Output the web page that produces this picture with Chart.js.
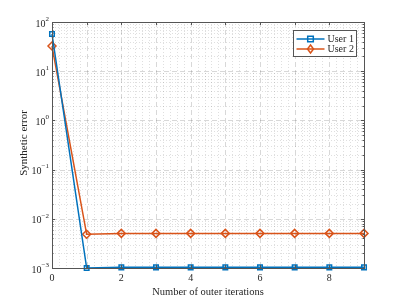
<!DOCTYPE html>
<html>
<head>
<meta charset="utf-8">
<script src="https://cdn.jsdelivr.net/npm/chart.js@4/dist/chart.umd.min.js"></script>
<style>
  html, body { margin: 0; padding: 0; background: #fff; }
  #wrap { width: 402px; height: 301px; }
</style>
</head>
<body>
<div id="wrap"><canvas id="myChart" width="402" height="301"></canvas></div>
<script>
const iterations = [0, 1, 2, 3, 4, 5, 6, 7, 8, 9];
const user1 = [57, 1.0e-3, 1.03e-3, 1.03e-3, 1.03e-3, 1.03e-3, 1.03e-3, 1.03e-3, 1.03e-3, 1.03e-3];
const user2 = [32.5, 4.85e-3, 5.05e-3, 5.05e-3, 5.05e-3, 5.05e-3, 5.05e-3, 5.05e-3, 5.05e-3, 5.05e-3];
const xTickLabels = ['0', '2', '4', '6', '8'];
const yTickExps = [-3, -2, -1, 0, 1, 2];

const blue = '#0072BD';
const orange = '#D95319';
const serif = '"Liberation Serif", "Times New Roman", serif';

// matlab-like axes: grid, box, ticks, labels and legend
const matlabAxes = {
  id: 'matlabAxes',
  beforeDatasetsDraw(chart) {
    const { ctx, chartArea: a, scales: { x, y } } = chart;
    ctx.save();
    ctx.lineWidth = 1;
    // minor grid
    ctx.strokeStyle = 'rgba(38,38,38,0.15)';
    ctx.setLineDash([1, 2]);
    ctx.beginPath();
    for (let v = 0; v < 9; v += 1) {
      for (let k = 1; k < 5; k++) {
        const px = Math.round(x.getPixelForValue(v + k * 0.2)) + 0.5;
        ctx.moveTo(px, a.top); ctx.lineTo(px, a.bottom);
      }
    }
    for (let e = -3; e < 2; e++) {
      for (let m = 2; m < 10; m++) {
        const py = Math.round(y.getPixelForValue(m * Math.pow(10, e))) + 0.5;
        ctx.moveTo(a.left, py); ctx.lineTo(a.right, py);
      }
    }
    ctx.stroke();
    // major grid
    ctx.strokeStyle = 'rgba(38,38,38,0.18)';
    ctx.setLineDash([5, 3]);
    ctx.beginPath();
    for (let v = 1; v < 9; v++) {
      const px = Math.round(x.getPixelForValue(v)) + 0.5;
      ctx.moveTo(px, a.top); ctx.lineTo(px, a.bottom);
    }
    for (const e of yTickExps.slice(1, -1)) {
      const py = Math.round(y.getPixelForValue(Math.pow(10, e))) + 0.5;
      ctx.moveTo(a.left, py); ctx.lineTo(a.right, py);
    }
    ctx.stroke();
    ctx.restore();
  },
  afterDatasetsDraw(chart) {
    const { ctx, chartArea: a, scales: { x, y } } = chart;
    ctx.save();
    ctx.strokeStyle = '#555';
    ctx.lineWidth = 1;
    ctx.beginPath();
    // ticks, inward on all four sides
    for (let v = 0; v <= 9; v++) {
      const px = Math.round(x.getPixelForValue(v)) + 0.5;
      ctx.moveTo(px, a.bottom); ctx.lineTo(px, a.bottom - 3);
      ctx.moveTo(px, a.top); ctx.lineTo(px, a.top + 3);
    }
    for (let e = -3; e < 2; e++) {
      for (let m = 1; m < 10; m++) {
        const len = m === 1 ? 3 : 1.5;
        const py = Math.round(y.getPixelForValue(m * Math.pow(10, e))) + 0.5;
        ctx.moveTo(a.left, py); ctx.lineTo(a.left + len, py);
        ctx.moveTo(a.right, py); ctx.lineTo(a.right - len, py);
      }
    }
    ctx.stroke();
    ctx.strokeRect(Math.round(a.left) + 0.5, Math.round(a.top) + 0.5,
      Math.round(a.right - a.left), Math.round(a.bottom - a.top));

    // tick labels
    ctx.fillStyle = '#262626';
    ctx.font = '10px ' + serif;
    ctx.textAlign = 'center';
    ctx.textBaseline = 'middle';
    xTickLabels.forEach(t => {
      ctx.fillText(t, x.getPixelForValue(Number(t)), a.bottom + 10);
    });
    yTickExps.forEach(e => {
      const py = y.getPixelForValue(Math.pow(10, e));
      const exp = String(e).replace('-', '\u2212');
      ctx.font = '7px ' + serif;
      const ew = ctx.measureText(exp).width;
      ctx.textAlign = 'left';
      ctx.fillText(exp, a.left - 3 - ew, py - 3);
      ctx.font = '10px ' + serif;
      ctx.textAlign = 'right';
      ctx.fillText('10', a.left - 3 - ew, py + 2);
    });

    // axis titles
    ctx.font = '10.5px ' + serif;
    ctx.textAlign = 'center';
    ctx.fillText('Number of outer iterations', (a.left + a.right) / 2, a.bottom + 24);
    ctx.save();
    ctx.translate(24, (a.top + a.bottom) / 2 - 2);
    ctx.rotate(-Math.PI / 2);
    ctx.font = '11px ' + serif;
    ctx.fillText('Synthetic error', 0, 0);
    ctx.restore();

    // legend, top right inside the axes
    const bx = a.right - 70.5, by = a.top + 8.5, bw = 63, bh = 26;
    ctx.fillStyle = '#fff';
    ctx.fillRect(bx, by, bw, bh);
    ctx.strokeStyle = '#555';
    ctx.strokeRect(bx, by, bw, bh);
    chart.data.datasets.forEach((ds, i) => {
      const ly = by + 8.5 + i * 10;
      ctx.strokeStyle = ds.borderColor;
      ctx.lineWidth = 1.5;
      ctx.beginPath();
      ctx.moveTo(bx + 3, ly); ctx.lineTo(bx + 31, ly);
      ctx.stroke();
      const mx = bx + 17;
      ctx.beginPath();
      if (ds.pointStyle === 'rect') {
        ctx.rect(mx - 2.8, ly - 2.8, 5.6, 5.6);
      } else {
        ctx.moveTo(mx, ly - 4); ctx.lineTo(mx + 3, ly);
        ctx.lineTo(mx, ly + 4); ctx.lineTo(mx - 3, ly); ctx.closePath();
      }
      ctx.stroke();
      ctx.fillStyle = '#262626';
      ctx.font = '10px ' + serif;
      ctx.textAlign = 'left';
      ctx.textBaseline = 'middle';
      ctx.fillText(ds.label, bx + 34, ly + 0.5);
    });
    ctx.restore();
  }
};

const data = {
  labels: iterations,
  datasets: [{
    label: 'User 1',
    data: iterations.map((v, i) => ({ x: v, y: user1[i] })),
    borderColor: blue,
    borderWidth: 1.5,
    pointStyle: 'rect',
    pointRadius: 3.2,
    pointBorderWidth: 1.5,
    pointBackgroundColor: 'rgba(255,255,255,0)',
    pointBorderColor: blue,
    clip: false
  }, {
    label: 'User 2',
    data: iterations.map((v, i) => ({ x: v, y: user2[i] })),
    borderColor: orange,
    borderWidth: 1.5,
    pointStyle: 'rectRot',
    pointRadius: 4,
    pointBorderWidth: 1.5,
    pointBackgroundColor: 'rgba(255,255,255,0)',
    pointBorderColor: orange,
    clip: false
  }]
};

const config = {
  type: 'line',
  data,
  options: {
    responsive: false,
    animation: false,
    events: [],
    layout: { padding: { left: 52, top: 22, right: 38, bottom: 33 } },
    plugins: { legend: { display: false }, tooltip: { enabled: false } },
    scales: {
      x: { type: 'linear', min: 0, max: 9, display: false },
      y: { type: 'logarithmic', min: 1e-3, max: 1e2, display: false }
    }
  },
  plugins: [matlabAxes]
};

const myChart = new Chart(document.getElementById('myChart'), config);
</script>
</body>
</html>
